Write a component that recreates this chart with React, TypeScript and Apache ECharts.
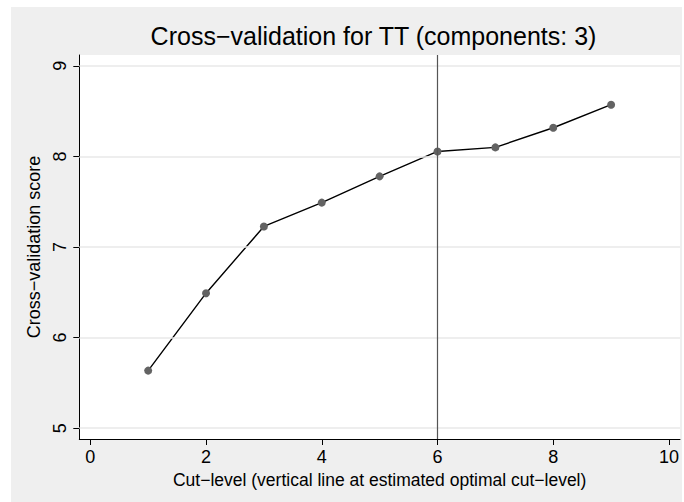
import React, { useEffect, useRef } from "react";
import * as echarts from "echarts";

const cutLevels = [1, 2, 3, 4, 5, 6, 7, 8, 9];
const cvScores = [5.635, 6.49, 7.227, 7.49, 7.78, 8.055, 8.1, 8.317, 8.571];
const xTicks = [0, 2, 4, 6, 8, 10];
const yTicks = [5, 6, 7, 8, 9];
const optimalCut = 6;
const titleText = "Cross\u2212validation for TT (components: 3)";
const xTitle = "Cut\u2212level (vertical line at estimated optimal cut\u2212level)";
const yTitle = "Cross\u2212validation score";

const FONT = "'Liberation Sans', Arial, sans-serif";

export default function App() {
  const ref = useRef<HTMLDivElement>(null);
  useEffect(() => {
    if (!ref.current) return;
    const chart = echarts.init(ref.current, undefined, { renderer: "svg" });
    chart.setOption({
      animation: false,
      backgroundColor: "#efefef",
      textStyle: { fontFamily: FONT },
      graphic: [
        {
          type: "text",
          x: 362.5,
          y: 29,
          style: {
            text: titleText,
            font: `25px ${FONT}`,
            fill: "#000",
            textAlign: "center",
            textVerticalAlign: "middle",
          },
        },
      ],
      grid: {
        left: 68.3,
        top: 48,
        right: 1,
        bottom: 63,
        show: true,
        backgroundColor: "#ffffff",
        borderWidth: 0,
      },
      xAxis: {
        type: "value",
        min: -0.19,
        max: 10.19,
        name: xTitle,
        nameLocation: "middle",
        nameGap: 21,
        nameTextStyle: { fontSize: 17.5, color: "#000", fontFamily: FONT },
        axisLine: { show: true, onZero: false, lineStyle: { color: "#000", width: 1 } },
        axisTick: { show: true, length: 6, inside: false, customValues: xTicks, lineStyle: { color: "#000" } },
        axisLabel: { customValues: xTicks, fontSize: 18, color: "#000", margin: 9, fontFamily: FONT },
        splitLine: { show: false },
      },
      yAxis: {
        type: "value",
        min: 4.88,
        max: 9.12,
        name: yTitle,
        nameLocation: "middle",
        nameGap: 29,
        nameRotate: 90,
        nameTextStyle: { fontSize: 18, color: "#000", fontFamily: FONT },
        axisLine: { show: true, onZero: false, lineStyle: { color: "#000", width: 1 } },
        axisTick: { show: true, length: 6, inside: false, customValues: yTicks, lineStyle: { color: "#000" } },
        axisLabel: { customValues: yTicks, rotate: 90, fontSize: 18, color: "#000", margin: 10, fontFamily: FONT },
        splitLine: { show: false },
      },
      series: [
        {
          type: "line",
          data: [],
          z: 1,
          silent: true,
          markLine: {
            silent: true,
            symbol: ["none", "none"],
            label: { show: false },
            lineStyle: { color: "#e8e8e8", width: 1.5, type: "solid" },
            data: yTicks.map((v) => ({ yAxis: v })),
          },
        },
        {
          type: "line",
          data: [],
          z: 2,
          silent: true,
          markLine: {
            silent: true,
            symbol: ["none", "none"],
            label: { show: false },
            lineStyle: { color: "#555555", width: 1.2, type: "solid" },
            data: [{ xAxis: optimalCut }],
          },
        },
        {
          type: "line",
          z: 3,
          data: cutLevels.map((x, i) => [x, cvScores[i]]),
          symbol: "circle",
          symbolSize: 8,
          showSymbol: true,
          lineStyle: { color: "#000", width: 1.4 },
          itemStyle: { color: "#636363", borderWidth: 0 },
        },
      ],
    });
    return () => chart.dispose();
  }, []);
  return (
    <div
      ref={ref}
      style={{ position: "absolute", left: 11, top: 7, width: 671, height: 495 }}
    />
  );
}
